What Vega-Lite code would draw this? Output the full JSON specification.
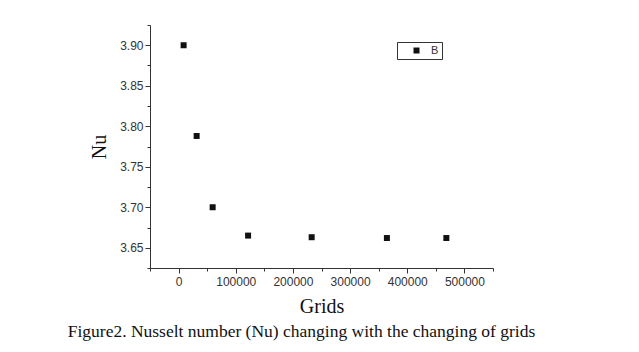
{
  "$schema": "https://vega.github.io/schema/vega-lite/v6.json",
  "width": 343,
  "height": 243,
  "autosize": {"type": "none"},
  "padding": {"left": 150, "top": 25, "right": 146, "bottom": 84},
  "background": "white",
  "title": {
    "text": "Figure2. Nusselt number (Nu) changing with the changing of grids",
    "orient": "bottom",
    "anchor": "middle",
    "font": "Liberation Serif",
    "fontSize": 17.5,
    "fontWeight": "normal",
    "color": "#111",
    "offset": 7,
    "dx": -20
  },
  "data": {
    "values": [
      {"grids": 8800, "nu": 3.900, "series": "B"},
      {"grids": 31600, "nu": 3.788, "series": "B"},
      {"grids": 59600, "nu": 3.700, "series": "B"},
      {"grids": 121600, "nu": 3.665, "series": "B"},
      {"grids": 232800, "nu": 3.663, "series": "B"},
      {"grids": 364400, "nu": 3.662, "series": "B"},
      {"grids": 468400, "nu": 3.662, "series": "B"}
    ]
  },
  "mark": {"type": "point", "shape": "square", "filled": true, "size": 36, "opacity": 1},
  "encoding": {
    "x": {
      "field": "grids",
      "type": "quantitative",
      "scale": {"domain": [-50000, 550000], "nice": false, "zero": false},
      "axis": {
        "title": "Grids",
        "titleFont": "Liberation Serif",
        "titleFontSize": 20,
        "titleFontWeight": "normal",
        "titleColor": "#111",
        "titlePadding": 9,
        "values": [-50000, 0, 50000, 100000, 150000, 200000, 250000, 300000, 350000, 400000, 450000, 500000, 550000],
        "labelExpr": "(datum.value % 100000 == 0 && datum.value >= 0 && datum.value <= 500000) ? format(datum.value, 'd') : ''",
        "labelFont": "Liberation Sans",
        "labelFontSize": 12,
        "labelColor": "#333",
        "labelPadding": 3,
        "tickSize": {"condition": {"test": "datum.value % 100000 == 0", "value": 5}, "value": 3},
        "tickColor": "#333",
        "domainColor": "#333",
        "grid": false,
        "labelOverlap": false
      }
    },
    "y": {
      "field": "nu",
      "type": "quantitative",
      "scale": {"domain": [3.625, 3.925], "nice": false, "zero": false},
      "axis": {
        "title": "Nu",
        "titleFont": "Liberation Serif",
        "titleFontSize": 20,
        "titleFontWeight": "normal",
        "titleColor": "#111",
        "titlePadding": 10,
        "values": [3.625, 3.65, 3.675, 3.7, 3.725, 3.75, 3.775, 3.8, 3.825, 3.85, 3.875, 3.9, 3.925],
        "labelExpr": "(abs(round(datum.value * 1000)) % 50 == 0) ? format(datum.value, '.2f') : ''",
        "labelFont": "Liberation Sans",
        "labelFontSize": 12,
        "labelColor": "#333",
        "labelPadding": 2,
        "tickSize": {"condition": {"test": "abs(round(datum.value * 1000)) % 50 == 0", "value": 5}, "value": 3},
        "tickColor": "#333",
        "domainColor": "#333",
        "grid": false,
        "labelOverlap": false
      }
    },
    "color": {
      "field": "series",
      "type": "nominal",
      "scale": {"range": ["#111"]},
      "legend": {
        "title": null,
        "orient": "none",
        "legendX": 247,
        "legendY": 17,
        "symbolType": "square",
        "symbolSize": 36,
        "labelFont": "Liberation Sans",
        "labelFontSize": 11,
        "labelColor": "#333",
        "strokeColor": "#333",
        "padding": 3,
        "symbolOffset": 11,
        "labelOffset": 9
      }
    }
  },
  "config": {
    "view": {"stroke": null}
  }
}
